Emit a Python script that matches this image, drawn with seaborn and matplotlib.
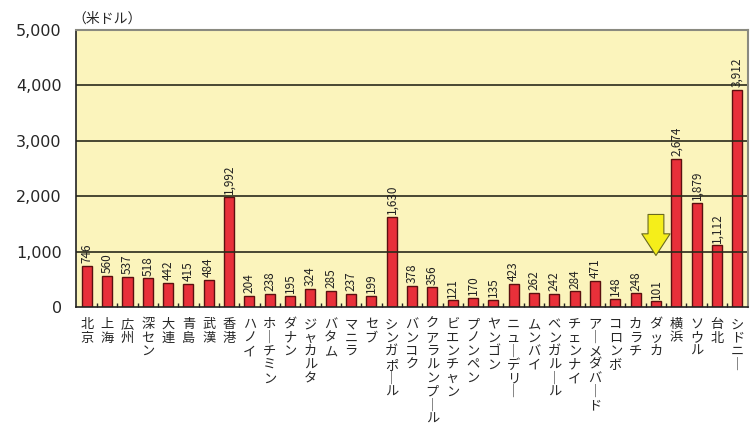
import matplotlib
matplotlib.use('Agg')
import matplotlib.pyplot as plt
import seaborn as sns
import pandas as pd
from matplotlib.ticker import FuncFormatter, FixedLocator

cities = ['北京', '上海', '広州', '深セン', '大連', '青島', '武漢', '香港',
          'ハノイ', 'ホーチミン', 'ダナン', 'ジャカルタ', 'バタム', 'マニラ', 'セブ',
          'シンガポール', 'バンコク', 'クアラルンプール', 'ビエンチャン', 'プノンペン',
          'ヤンゴン', 'ニューデリー', 'ムンバイ', 'ベンガルール', 'チェンナイ',
          'アーメダバード', 'コロンボ', 'カラチ', 'ダッカ', '横浜', 'ソウル', '台北', 'シドニー']
values = [746, 560, 537, 518, 442, 415, 484, 1992,
          204, 238, 195, 324, 285, 237, 199,
          1630, 378, 356, 121, 170,
          135, 423, 262, 242, 284,
          471, 148, 248, 101, 2674, 1879, 1112, 3912]
yticks = [0, 1000, 2000, 3000, 4000, 5000]
unit = '（米ドル）'
highlight = 'ダッカ'

df = pd.DataFrame({'city': cities, 'value': values})

sns.set_theme(style='white')
plt.rcParams['font.family'] = ['Noto Sans CJK JP', 'DejaVu Sans']

fig, ax = plt.subplots(figsize=(7.56, 4.45), dpi=100)
fig.subplots_adjust(left=0.1, right=0.99, top=0.933, bottom=0.31)

sns.barplot(data=df, x='city', y='value', color='#e8303a', width=0.5,
            edgecolor='#5a1010', linewidth=1.0, saturation=1, ax=ax)

ax.set_facecolor('#fbf4bc')
ax.set_ylim(0, 5000)
ax.set_xlim(-0.55, len(cities) - 0.45)
ax.yaxis.set_major_locator(FixedLocator(yticks))
ax.yaxis.set_major_formatter(FuncFormatter(lambda v, p: f'{int(v):,}'))
ax.tick_params(axis='y', length=0, pad=10)
for lab in ax.get_yticklabels():
    lab.set_family('DejaVu Sans')
    lab.set_fontsize(11.5)
for t in yticks[1:-1]:
    ax.axhline(t, color='#2a2a1a', lw=1.2, zorder=1)

# value labels
ax.bar_label(ax.containers[0], labels=[f'{v:,}' for v in values], rotation=90,
             padding=2, fontsize=8.5, color='#222222')

# vertical Japanese labels
vert = ['\n'.join(c.replace('ー', '｜')) for c in cities]
ax.set_xticks(range(len(cities)))
ax.set_xticklabels(vert, fontsize=9.5, linespacing=1.05, va='top')
ax.tick_params(axis='x', length=0, pad=8)
ax.set_xticks([i + 0.5 for i in range(len(cities) - 1)], minor=True)
ax.tick_params(axis='x', which='minor', direction='in', length=3, color='#222222', bottom=True)
ax.set_xlabel('')
ax.set_ylabel('')

for s in ['top', 'right']:
    ax.spines[s].set_color('#8a8a80')
    ax.spines[s].set_linewidth(1.5)
for s in ['left', 'bottom']:
    ax.spines[s].set_color('#222222')
    ax.spines[s].set_linewidth(1.2)

ax.text(-0.005, 1.015, unit, transform=ax.transAxes, fontsize=10, va='bottom', ha='left')

# yellow arrow above Dhaka
hx = cities.index(highlight)
ax.annotate('', xy=(hx, 930), xytext=(hx, 1670),
            arrowprops=dict(arrowstyle='simple,head_length=1.3,head_width=1.7,tail_width=0.95',
                            fc='#f5ee1a', ec='#6a6a20', lw=0.8, shrinkA=0, shrinkB=0))

fig.savefig('out.png', dpi=100)
